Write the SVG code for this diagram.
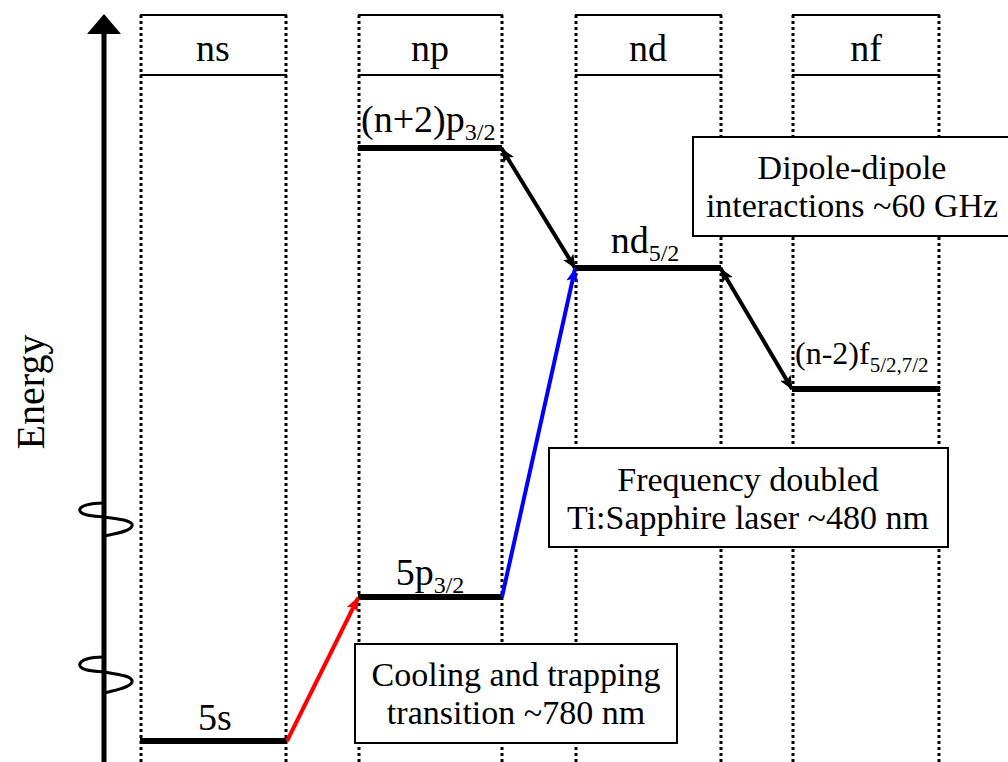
<svg xmlns="http://www.w3.org/2000/svg" width="1008" height="762" viewBox="0 0 1008 762">
<style>
text{font-family:'Liberation Serif','Tinos','Times New Roman','Nimbus Roman','DejaVu Serif',serif;fill:#000}
.hdr{font-size:38px;text-anchor:middle}
.lbl{font-size:38px}
.box{font-size:34px;text-anchor:middle}
.sub{font-size:24px}
.dot{stroke:#000;stroke-width:3;stroke-dasharray:3 3;fill:none}
.solid{stroke:#000;stroke-width:2;fill:none}
.lvl{stroke:#000;stroke-width:6;fill:none}
.bx{fill:#fff;stroke:#000;stroke-width:2}
</style>
<defs>
<marker id="ahB" markerUnits="userSpaceOnUse" markerWidth="14" markerHeight="12" refX="13" refY="6" orient="auto-start-reverse" viewBox="0 0 14 12">
<path d="M0,0 L14,6 L0,12 L3,6 Z" fill="#000"/>
</marker>
<marker id="ahR" markerUnits="userSpaceOnUse" markerWidth="14" markerHeight="12" refX="13" refY="6" orient="auto" viewBox="0 0 14 12">
<path d="M0,0 L14,6 L0,12 L3,6 Z" fill="#f00"/>
</marker>
<marker id="ahBl" markerUnits="userSpaceOnUse" markerWidth="14" markerHeight="12" refX="13" refY="6" orient="auto" viewBox="0 0 14 12">
<path d="M0,0 L14,6 L0,12 L3,6 Z" fill="#00f"/>
</marker>
</defs>

<g id="axis">
<line x1="104" y1="30" x2="104" y2="762" stroke="#000" stroke-width="5"/>
<polygon points="104,14 87,34 121,34" fill="#000"/>
<path d="M104,503 C90,503 78,506 80,511 C82,516 96,516 104,517 C116,519 134,520 132,526 C130,532 112,534 104,536" fill="none" stroke="#000" stroke-width="3"/>
<path d="M104,657 C90,657 78,660 80,666 C82,671 96,671 104,672 C116,674 134,676 132,682 C130,688 112,691 104,693" fill="none" stroke="#000" stroke-width="3"/>
<text transform="translate(44,392) rotate(-90)" text-anchor="middle" font-size="40">Energy</text>
</g>

<g id="col-ns">
<line class="dot" x1="141" y1="15" x2="141" y2="762"/>
<line class="dot" x1="286" y1="15" x2="286" y2="762"/>
<line class="solid" x1="140" y1="15" x2="287" y2="15"/>
<line class="solid" x1="140" y1="75" x2="287" y2="75"/>
<text class="hdr" x="213" y="61">ns</text>
</g>
<g id="col-np">
<line class="dot" x1="359" y1="15" x2="359" y2="762"/>
<line class="dot" x1="502" y1="15" x2="502" y2="762"/>
<line class="solid" x1="358" y1="15" x2="503" y2="15"/>
<line class="solid" x1="358" y1="75" x2="503" y2="75"/>
<text class="hdr" x="430" y="61">np</text>
</g>
<g id="col-nd">
<line class="dot" x1="576" y1="15" x2="576" y2="762"/>
<line class="dot" x1="721" y1="15" x2="721" y2="762"/>
<line class="solid" x1="575" y1="15" x2="722" y2="15"/>
<line class="solid" x1="575" y1="75" x2="722" y2="75"/>
<text class="hdr" x="648" y="61">nd</text>
</g>
<g id="col-nf">
<line class="dot" x1="793" y1="15" x2="793" y2="762"/>
<line class="dot" x1="939" y1="15" x2="939" y2="762"/>
<line class="solid" x1="792" y1="15" x2="940" y2="15"/>
<line class="solid" x1="792" y1="75" x2="940" y2="75"/>
<text class="hdr" x="866" y="61">nf</text>
</g>

<g id="level-5s">
<line class="lvl" x1="140" y1="741" x2="287" y2="741"/>
<text class="lbl" x="215" y="730" text-anchor="middle">5s</text>
</g>
<g id="level-5p">
<line class="lvl" x1="358" y1="597" x2="502" y2="597"/>
<text class="lbl" x="430" y="585" text-anchor="middle">5p<tspan class="sub" dy="8">3/2</tspan></text>
</g>
<g id="level-n2p">
<line class="lvl" x1="358" y1="148" x2="502" y2="148"/>
<text class="lbl" x="361" y="132">(n+2)p<tspan class="sub" dy="8">3/2</tspan></text>
</g>
<g id="level-nd">
<line class="lvl" x1="575" y1="268" x2="721" y2="268"/>
<text class="lbl" x="645" y="253" text-anchor="middle">nd<tspan class="sub" dy="8">5/2</tspan></text>
</g>
<g id="level-nf">
<line class="lvl" x1="792" y1="389" x2="940" y2="389"/>
<text x="795" y="364" font-size="32">(n-2)f<tspan font-size="21" dy="8">5/2,7/2</tspan></text>
</g>

<g id="connectors">
<line x1="287" y1="741" x2="358" y2="598" stroke="#f00" stroke-width="4" marker-end="url(#ahR)"/>
<line x1="502" y1="597" x2="575" y2="269" stroke="#00f" stroke-width="4" marker-end="url(#ahBl)"/>
<line x1="502" y1="149" x2="575" y2="268" stroke="#000" stroke-width="4" marker-start="url(#ahB)" marker-end="url(#ahB)"/>
<line x1="721" y1="269" x2="792" y2="389" stroke="#000" stroke-width="4" marker-start="url(#ahB)" marker-end="url(#ahB)"/>
</g>

<g id="box-dipole">
<rect class="bx" x="693" y="137" width="320" height="99"/>
<text class="box" x="852" y="179">Dipole-dipole</text>
<text class="box" x="852" y="217">interactions ~60 GHz</text>
</g>
<g id="box-frequency">
<rect class="bx" x="549" y="448" width="399" height="99"/>
<text class="box" x="748" y="491">Frequency doubled</text>
<text class="box" x="748" y="529">Ti:Sapphire laser ~480 nm</text>
</g>
<g id="box-cooling">
<rect class="bx" x="355" y="644" width="322" height="99"/>
<text class="box" x="516" y="686">Cooling and trapping</text>
<text class="box" x="516" y="724">transition ~780 nm</text>
</g>
</svg>
